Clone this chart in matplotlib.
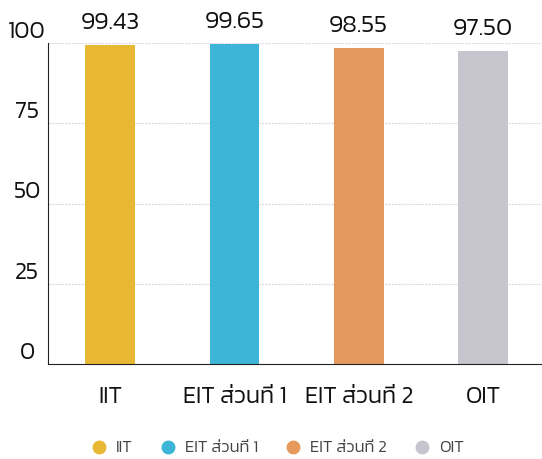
import glob
import matplotlib
matplotlib.use("Agg")
import matplotlib.pyplot as plt
from matplotlib import font_manager
from matplotlib.lines import Line2D

# data
labels = ["IIT", "EIT ส่วนที่ 1", "EIT ส่วนที่ 2", "OIT"]
values = [99.43, 99.65, 98.55, 97.50]
colors = ["#E8B835", "#3DB5D6", "#E5995C", "#C6C4CC"]
yticks = [0, 25, 50, 75, 100]

# Thai font: Kanit file picked directly by path
fp = font_manager.FontProperties(family="DejaVu Sans")
for name in ["Kanit-Light.ttf", "Kanit-Regular.ttf", "Prompt-Light.ttf"]:
    hits = glob.glob("/usr/share/fonts/**/" + name, recursive=True)
    if hits:
        fp = font_manager.FontProperties(fname=hits[0])
        break

def font(size):
    f = fp.copy()
    f.set_size(size)
    return f

fig = plt.figure(figsize=(5.42, 4.59), dpi=100)
ax = fig.add_axes([48 / 542, 95 / 459, 1 - 48 / 542, 321 / 459])

x = list(range(len(labels)))
ax.bar(x, values, width=0.40, color=colors, zorder=2)

for xi, v in zip(x, values):
    ax.annotate("%.2f" % v, (xi, v), xytext=(0, 8), textcoords="offset points",
                ha="center", va="bottom", fontproperties=font(18), color="#111111")

ax.set_xlim(-0.5, 3.475)
ax.set_ylim(0, 100)
ax.set_yticks(yticks, labels=[str(t) for t in yticks], ha="center", va="bottom",
              fontproperties=font(17), color="#111111")
ax.set_xticks(x, labels=labels, fontproperties=font(17), color="#111111")
ax.tick_params(axis="y", length=0, pad=15)
ax.tick_params(axis="x", length=0, pad=15.5)

ax.yaxis.grid(True, color="#e3d6e3", linewidth=0.8, linestyle=(0, (2, 1)), zorder=0)
for s in ["top", "right"]:
    ax.spines[s].set_visible(False)
ax.spines["left"].set_color("#222222")
ax.spines["bottom"].set_color("#222222")

handles = [Line2D([], [], marker="o", linestyle="", markersize=9,
                  markerfacecolor=c, markeredgecolor=c) for c in colors]
leg = fig.legend(handles, labels, loc="center", bbox_to_anchor=(277 / 542, 1 - 448 / 459),
                 ncol=4, frameon=False, prop=font(12), handlelength=1.0,
                 handletextpad=0.52, columnspacing=1.6)
for t in leg.get_texts():
    t.set_color("#444444")

fig.savefig("out.png", dpi=100)
